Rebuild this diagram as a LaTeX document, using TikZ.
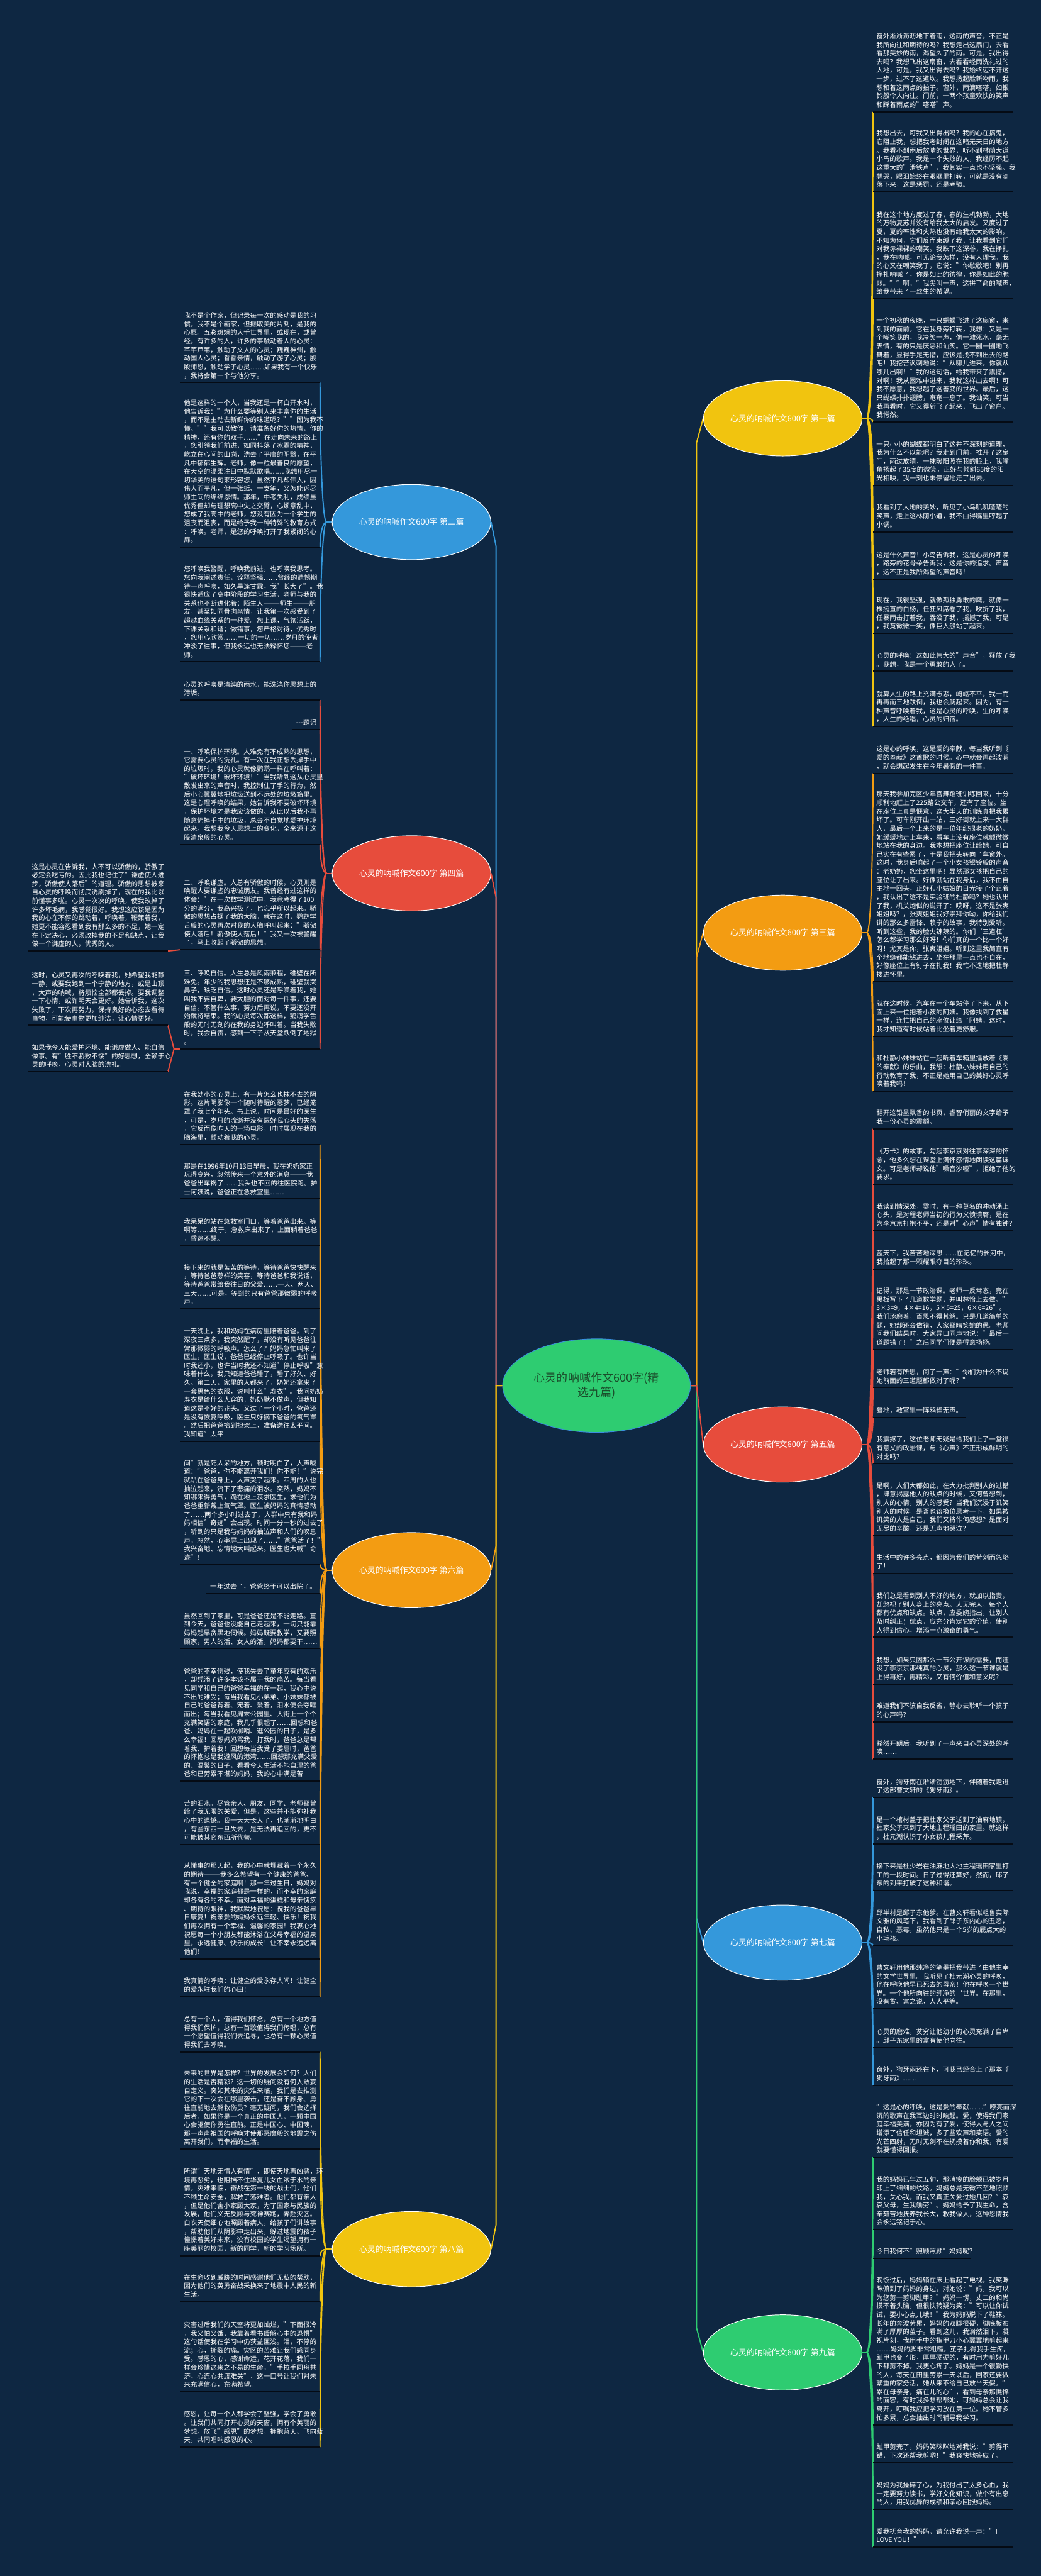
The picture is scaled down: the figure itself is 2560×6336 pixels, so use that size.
\documentclass[tikz,border=0pt]{standalone}
\usepackage{fontspec}
\setmainfont{Noto Sans CJK SC}
\usetikzlibrary{shapes.geometric,calc}
\definecolor{bgc}{HTML}{0E2742}
\definecolor{ulc}{HTML}{050B14}
\definecolor{yel}{HTML}{F1C40F}
\definecolor{org}{HTML}{F39C12}
\definecolor{red}{HTML}{E74C3C}
\definecolor{blu}{HTML}{3498DB}
\definecolor{grn}{HTML}{2ECC71}
\definecolor{cbord}{HTML}{3A8DDE}
\definecolor{ctext}{HTML}{1B4D2B}
\pgfdeclarelayer{background}
\pgfsetlayers{background,main}
\tikzset{
  txt/.style={anchor=north west,inner sep=0pt,align=left,text=white,font=\fontsize{16.3}{21.1}\selectfont},
  ul/.style={draw=ulc,line width=3pt},
  conn/.style={line width=3pt,line join=round},
  bnode/.style={ellipse,minimum width=390,minimum height=185,inner sep=0pt,draw=white,line width=1.5pt,text=white,font=\fontsize{20}{24}\selectfont}
}
\newcommand\rblk[4]{%
  \node[txt] (#1) at (2155,{#2-25.3-21.1*(#3-1)}) {#4};
  \draw[ul] (2147,#2) coordinate (u#1) -- (2490,#2);}
\newcommand\rblks[4]{%
  \node[txt] (#1) at (2155,{#2-25.3}) {#3};
  \draw[ul] (2147,#2) coordinate (u#1) -- (#4,#2);}
\newcommand\lblk[4]{%
  \node[txt] (#1) at (452,{#2-25.3-21.1*(#3-1)}) {#4};
  \draw[ul] (443,#2) coordinate (v#1) -- (787,#2) coordinate (u#1);}
\newcommand\lblkr[4]{%
  \node[txt,anchor=north east] (#1) at (778,{#2-25.3}) {#3};
  \draw[ul] (#4,#2) -- (787,#2) coordinate (u#1);}
\newcommand\fblk[4]{%
  \node[txt] (#1) at (78,{#2-25.3-21.1*(#3-1)}) {#4};
  \draw[ul] (70,#2) -- (413,#2) coordinate (u#1);}
\newcommand\cR[3]{\draw[conn,#1] (#2) .. controls +(10,0) and ($(#3)!0.5!(#3|-#2)$) .. (#3);}
\newcommand\cL[3]{\draw[conn,#1] (#2) .. controls +(-10,0) and ($(#3)!0.5!(#3|-#2)$) .. (#3);}
\begin{document}
\begin{tikzpicture}[x=1pt,y=-1pt]
\useasboundingbox (0,0) rectangle (2560,6336);
\begin{pgfonlayer}{background}
\fill[bgc] (0,0) rectangle (2560,6336);
\end{pgfonlayer}

% ---------------- right column ----------------
\rblk{r1a}{275}{9}{窗外淅淅沥沥地下着雨，这雨的声音，不正是\\我所向往和期待的吗？我想走出这扇门，去看\\看那美妙的雨，渴望久了的雨。可是，我出得\\去吗？我想飞出这扇窗，去看看经雨洗礼过的\\大地，可是，我又出得去吗？我始终迈不开这\\一步，过不了这道坎。我想扬起脸新吻雨，我\\想和着这雨点的拍子。窗外，雨滴嗒嗒，如银\\铃般令人向往。门前，一两个孩童欢快的笑声\\和踩着雨点的"嗒嗒"声。}
\rblk{r1b}{472}{7}{我想出去，可我又出得出吗？我的心在搞鬼，\\它阻止我，想把我老封闭在这暗无天日的地方\\。我看不到雨后放晴的世界，听不到林荫大道\\小鸟的歌声。我是一个失败的人，我经历不起\\这重大的"滑铁卢"，我其实一点也不坚强。我\\想哭，眼泪始终在眼眶里打转，可就是没有滴\\落下来，这是惩罚，还是考验。}
\rblk{r1c}{735}{10}{我在这个地方度过了春，春的生机勃勃，大地\\的万物复苏并没有给我太大的启发。又度过了\\夏，夏的率性和火热也没有给我太大的影响，\\不知为何，它们反而束缚了我，让我看到它们\\对我赤裸裸的嘲笑。我跌下这深谷，我在挣扎\\，我在呐喊，可无论我怎样，没有人理我。我\\的心又在嘲笑我了，它说："你歇歇吧！别再\\挣扎呐喊了，你是如此的彷徨，你是如此的脆\\弱。""啊。"我尖叫一声，这拼了命的喊声，\\给我带来了一丝生的希望。}
\rblk{r1d}{1038}{12}{一个初秋的夜晚，一只蝴蝶飞进了这扇窗，来\\到我的面前。它在我身旁打转，我想：又是一\\个嘲笑我的，我冷笑一声，像一滩死水，毫无\\表情，有的只是厌恶和讪笑。它一圈一圈地飞\\舞着，显得手足无措，应该是找不到出去的路\\吧！我挖苦讽刺地说："从哪儿进来，你就从\\哪儿出啊！"我的这句话，给我带来了震撼，\\对啊！我从困难中进来，我就这样出去啊！可\\我不愿意，我想起了这善变的世界。最后，这\\只蝴蝶扑扑翅膀，奄奄一息了。我讪笑，可当\\我再看时，它又得新飞了起来，飞出了窗户。\\我愕然。}
\rblk{r1e}{1194}{5}{一只小小的蝴蝶都明白了这并不深刻的道理，\\我为什么不以能呢？我走到门前，推开了这扇\\门，雨过放晴，一抹暖阳照在我的脸上，我嘴\\角扬起了35度的微笑，正好与倾斜65度的阳\\光相映，我一刻也未停留地走了出去。}
\rblk{r1f}{1308}{3}{我看到了大地的美妙，听见了小鸟叽叽喳喳的\\笑声，走上这林荫小道，我不由得嘴里哼起了\\小调。}
\rblk{r1g}{1424}{3}{这是什么声音！小鸟告诉我，这是心灵的呼唤\\，路旁的花骨朵告诉我，这是你的追求。声音\\，这不正是我所渴望的声音吗！}
\rblk{r1h}{1558}{4}{现在，我很坚强，就像孤独勇敢的鹰，就像一\\棵挺直的白杨，任狂风席卷了我，吹折了我，\\任暴雨击打着我，吞没了我，摇撼了我，可是\\，我竟微微一笑，像巨人般站了起来。}
\rblk{r1i}{1651}{2}{心灵的呼唤！这如此伟大的"声音"，释放了我\\。我想，我是一个勇敢的人了。}
\rblk{r1j}{1787}{4}{就算人生的路上充满忐忑，崎岖不平，我一而\\再再而三地跌倒，我也会爬起来。因为，有一\\种声音呼唤着我，这是心灵的呼唤，生的呼唤\\，人生的绝唱，心灵的归宿。}
\rblk{r3a}{1902}{3}{这是心的呼唤，这是爱的奉献，每当我听到《\\爱的奉献》这首歌的时候。心中就会再起波澜\\，就会想起发生在今年暑假的一件事。}
\rblk{r3b}{2414}{22}{那天我参加完区少年宫舞蹈班训练回来，十分\\顺利地赶上了225路公交车，还有了座位。坐\\在座位上真是惬意，这大半天的训练真把我累\\坏了。可车刚开出一站，三好街就上来一大群\\人，最后一个上来的是一位年纪很老的奶奶，\\她缓缓地走上车来，看车上没有座位就颤微微\\地站在我的身边。我本想把座位让给她，可自\\己实在有些累了，于是我把头转向了车窗外。\\这时，我身后响起了一个小女孩银铃般的声音\\：老奶奶，您坐这里吧！显然那女孩把自己的\\座位让了出来。好像就站在我身后，我不由自\\主地一回头，正好和小姑娘的目光接了个正着\\，我认出了这不是实验班的杜静吗？她也认出\\了我，机关炮似的说开了：哎呀，这不是张爽\\姐姐吗？，张爽姐姐我好崇拜你呦，你给我们\\讲的那么多雷锋、赖宁的故事，我特别爱听。\\听到这些，我的脸火辣辣的。你们‘三道杠’\\怎么都学习那么好呀！你们真的一个比一个好\\呀！尤其是你，张爽姐姐。听到这里我简直有\\个地缝都能钻进去，坐在那里一点也不自在，\\好像座位上有钉子在扎我！我忙不迭地把杜静\\搂进怀里。}
\rblk{r3c}{2549}{4}{就在这时候，汽车在一个车站停了下来，从下\\面上来一位抱着小孩的阿姨。我像找到了救星\\一样，连忙把自己的座位让给了阿姨。这时，\\我才知道有时候站着比坐着更舒服。}
\rblk{r3d}{2684}{4}{和杜静小妹妹站在一起听着车箱里播放着《爱\\的奉献》的乐曲，我想：杜静小妹妹用自己的\\行动教育了我，不正是她用自己的美好心灵呼\\唤着我吗！}
\rblk{r5a}{2776}{2}{翻开这铅墨飘香的书页，睿智俏丽的文字给予\\我一份心灵的震颤。}
\rblk{r5b}{2913}{4}{《万卡》的故事，勾起李京京对往事深深的怀\\念，他多么想在课堂上满怀感情地朗读这篇课\\文。可是老师却说他"嗓音沙哑"，拒绝了他的\\要求。}
\rblk{r5c}{3027}{3}{我读到情深处，霎时，有一种莫名的冲动涌上\\心头，是对程老师当初的行为义愤填膺，是在\\为李京京打抱不平，还是对"心声"情有独钟？}
\rblk{r5d}{3121}{2}{蓝天下，我苦苦地深思……在记忆的长河中，\\我拾起了那一颗耀眼夺目的珍珠。}
\rblk{r5e}{3319}{7}{记得，那是一节政治课。老师一反常态，竟在\\黑板写下了几道数学题，并叫林怡上去做。"\\3×3=9，4×4=16，5×5=25，6×6=26"。\\我们琢磨着，百思不得其解。只是几道简单的\\题，她却还会做错，大家都暗笑她的愚。老师\\问我们结果时，大家异口同声地说："最后一\\道题错了！"之后同学们便是得意扬扬。}
\rblk{r5f}{3413}{2}{老师若有所思，问了一声："你们为什么不说\\她前面的三道题都做对了呢？"}
\rblks{r5g}{3486}{蓦地，教室里一阵鸦雀无声。}{2375}
\rblk{r5h}{3600}{3}{我震撼了，这位老师无疑是给我们上了一堂很\\有意义的政治课，与《心声》不正形成鲜明的\\对比吗？}
\rblk{r5i}{3777}{6}{是啊，人们大都如此，在大力批判别人的过错\\，肆意揭露他人的缺点的时候，又何曾想到，\\别人的心情，别人的感受？当我们沉浸于讥笑\\别人的时候，是否也该换位思考一下，如果被\\讥笑的人是自己，我们又将作何感想？是面对\\无尽的辛酸，还是无声地哭泣？}
\rblk{r5j}{3870}{2}{生活中的许多亮点，都因为我们的苛刻而忽略\\了！}
\rblk{r5k}{4027}{5}{我们总是看到别人不好的地方，就加以指责，\\却忽视了别人身上的亮点。人无完人，每个人\\都有优点和缺点。缺点，应委婉指出，让别人\\及时纠正；优点，应充分肯定它的价值，使别\\人得到信心，增添一点激奋的勇气。}
\rblk{r5l}{4142}{3}{我想，如果只因那么一节公开课的需要，而湮\\没了李京京那纯真的心灵，那么这一节课就是\\上得再好，再精彩，又有何价值和意义呢？}
\rblk{r5m}{4235}{2}{难道我们不该自我反省，静心去聆听一个孩子\\的心声吗？}
\rblk{r5n}{4327}{2}{豁然开朗后，我听到了一声来自心灵深处的呼\\唤……}
\rblk{r7a}{4421}{2}{窗外，狗牙雨在淅淅沥沥地下，伴随着我走进\\了这部曹文轩的《狗牙雨》。}
\rblk{r7b}{4535}{3}{是一个棺材盖子把杜家父子送到了油麻地镇，\\杜家父子来到了大地主程瑶田的家里。就这样\\，杜元潮认识了小女孩儿程采芹。}
\rblk{r7c}{4650}{3}{接下来是杜少岩在油麻地大地主程瑶田家里打\\工的一段时间。日子过得还算好，然而，邱子\\东的到来打破了这种和谐。}
\rblk{r7d}{4785}{4}{邱半村是邱子东他爹。在曹文轩看似粗鲁实际\\文雅的风笔下，我看到了邱子东内心的丑恶，\\自私、恶毒，虽然他只是一个5岁的屁点大的\\小毛孩。}
\rblk{r7e}{4941}{5}{曹文轩用他那纯净的笔墨把我带进了由他主宰\\的文学世界里。我听见了杜元潮心灵的呼唤，\\他在呼唤他早已死去的母亲！他在呼唤一个世\\界。一个他所向往的纯净的`世界。在那里，\\没有贫、富之说，人人平等。}
\rblk{r7f}{5036}{2}{心灵的磨难，贫穷让他幼小的心灵充满了自卑\\。邱子东家里的富有使他向往。}
\rblk{r7g}{5129}{2}{窗外，狗牙雨还在下，可我已经合上了那本《\\狗牙雨》……}
\rblk{r9a}{5306}{6}{"这是心的呼唤，这是爱的奉献……"嘹亮而深\\沉的歌声在我耳边时时响起。爱，使得我们家\\庭幸福美满，亦因为有了爱，使得人与人之间\\增添了信任和坦诚，多了些欢声和笑语。爱的\\光芒四射，无时无刻不在抚摸着你和我，有爱\\就要懂得回报。}
\rblk{r9b}{5484}{6}{我的妈妈已年过五旬，那消瘦的脸颊已被岁月\\印上了细细的纹路。妈妈总是无微不至地照顾\\我，关心我，而我又真正关爱过她几回？"哀\\哀父母，生我劬劳"。妈妈给予了我生命，含\\辛茹苦地抚养我长大，教我做人，这种恩情我\\会永远铭记于心。}
\rblks{r9c}{5555}{今日我何不"照顾照顾"妈妈呢？}{2389}
\rblk{r9d}{5964}{17}{晚饭过后，妈妈躺在床上看起了电视，我笑眯\\眯俯到了妈妈的身边，对她说："妈，我可以\\为您剪一剪脚趾甲？"妈妈一愣，丈二的和尚\\摸不着头脑，但很快转疑为笑："可以让你试\\试，要小心点儿哦！"我为妈妈脱下了鞋袜。\\长年的奔波劳累，妈妈的双脚很硬，脚底板布\\满了厚厚的茧子。看到这儿，我潸然泪下，凝\\视片刻，我用手中的指甲刀小心翼翼地剪起来\\……妈妈的脚非常粗糙，茧子扎得我手生疼，\\趾甲也变了形，厚厚硬硬的，有时用力剪好几\\下都剪不掉，我更心疼了。妈妈是一个很勤快\\的人，每天在田里劳累一天以后，回家还要做\\繁重的家务活，她从来不给自己放半天假。"\\累在母亲身，痛在儿的心"，看到母亲那憔悴\\的面容，有时我多想帮帮她，可妈妈总会让我\\离开，叮嘱我应把学习放在第一位。她不管多\\忙多累，总会抽出时间辅导我学习。}
\rblk{r9e}{6057}{2}{趾甲剪完了，妈妈笑眯眯地对我说："剪得不\\错，下次还帮我剪哟！"我爽快地答应了。}
\rblk{r9f}{6172}{3}{妈妈为我操碎了心，为我付出了太多心血，我\\一定要努力读书，学好文化知识，做个有出息\\的人，用我优异的成绩和孝心回报妈妈。}
\rblk{r9g}{6265}{2}{爱我抚育我的妈妈，请允许我说一声："I\\LOVE YOU！"}

% ---------------- left column ----------------
\lblk{l2a}{941}{8}{我不是个作家，但记录每一次的感动是我的习\\惯，我不是个画家，但撷取美的片刻，是我的\\心愿。五彩斑斓的大千世界里，或现在，或曾\\经，有许多的人，许多的事触动着人的心灵：\\芊芊芦苇，触动了文人的心灵；巍巍神州，触\\动国人心灵；眷眷亲情，触动了游子心灵；殷\\殷师恩，触动学子心灵……如果我有一个快乐\\，我将会第一个与他分享。}
\lblk{l2b}{1346}{17}{他是这样的一个人，当我还是一杯白开水时，\\他告诉我："为什么要等别人来丰富你的生活\\，而不是主动去新鲜你的味道呢？""因为我不\\懂。""我可以教你，请准备好你的热情，你的\\精神，还有你的双手……"在走向未来的路上\\，您引领我们前进，如同抖落了冰霜的精神，\\屹立在心间的山岗，洗去了平庸的阴翳，在平\\凡中郁郁生辉。老师，像一粒最善良的愿望，\\在天空的温柔注目中默默歌唱……我想用尽一\\切华美的语句来形容您，虽然平凡却伟大，因\\伟大而平凡，但一张纸、一支笔，又怎能诉尽\\师生间的绵绵恩情。那年，中考失利，成绩虽\\优秀但却与理想高中失之交臂，心烦意乱中，\\您成了我高中的老师，您没有因为一个学生的\\沮丧而沮丧，而是给予我一种特殊的教育方式\\：呼唤。老师，是您的呼唤打开了我紧闭的心\\扉。}
\lblk{l2c}{1628}{11}{您呼唤我警醒，呼唤我前进，也呼唤我思考。\\您向我阐述责任，诠释坚强……曾经的遗憾期\\待一声呼唤，如久旱逢甘霖，我"长大了"。我\\很快适应了高中阶段的学习生活，老师与我的\\关系也不断进化着：陌生人———师生———朋\\友，甚至如同骨肉亲情，让我第一次感受到了\\超越血缘关系的一种爱。您上课，气氛活跃，\\下课关系和谐；做错事，您严格对待，优秀时\\，您用心欣赏……一切的一切……岁月的使者\\冲淡了往事，但我永远也无法释怀您———老\\师。}
\lblk{l4a}{1722}{2}{心灵的呼唤是清纯的雨水，能洗涤你思想上的\\污垢。}
\lblkr{l4b}{1795}{-{}-{}-题记}{717}
\lblk{l4c}{2077}{11}{一、呼唤保护环境。人难免有不成熟的思想，\\它需要心灵的洗礼。有一次在我正想丢掉手中\\的垃圾时，我的心灵就像鹦鹉一样在呼叫着：\\"破坏环境！破坏环境！"当我听到这从心灵里\\散发出来的声音时，我控制住了手的行为，然\\后小心翼翼地把垃圾送到不远处的垃圾箱里。\\这是心理呼唤的结果，她告诉我不要破坏环境\\，保护坏境才是我应该做的。从此以后我不再\\随意仍掉手中的垃圾，总会不自觉地爱护环境\\起来。我想我今天思想上的变化，全来源于这\\股清泉般的心灵。}
\lblk{l4d}{2336}{8}{二、呼唤谦虚。人总有骄傲的时候，心灵则是\\唤醒人要谦虚的忠诚朋友。我曾经有过这样的\\体会："在一次数学测试中，我竟考得了100\\分的满分，我高兴极了，也忘乎所以起来。骄\\傲的思想占据了我的大脑，就在这时，鹦鹉学\\舌般的心灵再次对我的大脑呼叫起来："骄傲\\使人落后！骄傲使人落后！"我又一次被警醒\\了，马上收起了骄傲的思想。}
\lblk{l4e}{2580}{9}{三、呼唤自信。人生总是风雨兼程，碰壁在所\\难免。年少的我思想还是不够成熟，碰壁就哭\\鼻子，缺乏自信。这时心灵还是呼唤着我，她\\叫我不要自卑，要大胆的面对每一件事，还要\\自信。不管什么事，努力后再说，不要还没开\\始就将结束。我的心灵每次都这样，鹦鹉学舌\\般的无时无刻的在我的身边呼叫着。当我失败\\时，我会自责，感到一下子从天堂跌倒了地狱\\。}
\fblk{f1}{2339}{10}{这是心灵在告诉我，人不可以骄傲的，骄傲了\\必定会吃亏的。因此我也记住了"谦虚使人进\\步，骄傲使人落后"的道理。骄傲的思想被来\\自心灵的呼唤而彻底洗刷掉了，现在的我比以\\前懂事多啦。心灵一次次的呼唤，使我改掉了\\许多坏毛病，我感觉很好。我想这应该是因为\\我的心在不停的跳动着，呼唤着，鞭策着我，\\她更不能容忍看到我有那么多的不足，她一定\\在下定决心，必须改掉我的不足和缺点，让我\\做一个谦虚的人，优秀的人。}
\fblk{f2}{2522}{6}{这时，心灵又再次的呼唤着我，她希望我能静\\一静，或要我跑到一个宁静的地方，或是山顶\\，大声的呐喊，将烦恼全部都丢掉。要我调整\\一下心情，或许明天会更好。她告诉我，这次\\失败了，下次再努力，保持良好的心态去看待\\事物，可能使事物更加纯洁，让心情更好。}
\fblk{f3}{2636}{3}{如果我今天能爱护环境、能谦虚做人、能自信\\做事。有"胜不骄败不馁"的好思想，全赖于心\\灵的呼唤，心灵对大脑的洗礼。}
\lblk{l6a}{2815}{6}{在我幼小的心灵上，有一片怎么也抹不去的阴\\影。这片阴影像一个随时待醒的恶梦，已经笼\\罩了我七个年头。书上说，时间是最好的医生\\，可是，岁月的流逝并没有医好我心头的失落\\，它反而像昨天的一场电影，时时展现在我的\\脑海里，颤动着我的心灵。}
\lblk{l6b}{2949}{4}{那是在1996年10月13日早晨，我在奶奶家正\\玩得高兴，忽然传来一个意外的消息———我\\爸爸出车祸了……我头也不回的往医院跑。护\\士阿姨说，爸爸正在急救室里……}
\lblk{l6c}{3064}{3}{我呆呆的站在急救室门口，等着爸爸出来。等\\啊等……终于，急救床出来了，上面躺着爸爸\\，昏迷不醒。}
\lblk{l6d}{3219}{5}{接下来的就是苦苦的等待，等待爸爸快快醒来\\，等待爸爸慈祥的笑容，等待爸爸和我说话，\\等待爸爸带给我往日的父爱……一天、两天、\\三天……可是，等到的只有爸爸那微弱的呼吸\\声。}
\lblk{l6e}{3545}{13}{一天晚上，我和妈妈在病房里陪着爸爸。到了\\深夜三点多，我突然醒了，却没有听见爸爸往\\常那微弱的呼吸声。怎么了？妈妈急忙叫来了\\医生，医生说，爸爸已经停止呼吸了。也许当\\时我还小，也许当时我还不知道"停止呼吸"意\\味着什么，我只知道爸爸睡了，睡了好久、好\\久。第二天，家里的人都来了，奶奶还拿来了\\一套黑色的衣服，说叫什么"寿衣"。我问奶奶\\寿衣是给什么人穿的，奶奶默不做声，但我知\\道这是不好的兆头。又过了一个小时，爸爸还\\是没有恢复呼吸，医生只好摘下爸爸的氧气罩\\。然后把爸爸抬到担架上，准备送往太平间。\\我知道"太平}
\lblk{l6f}{3848}{12}{间"就是死人呆的地方，顿时明白了，大声喊\\道："爸爸，你不能离开我们！你不能！"说完\\就趴在爸爸身上，大声哭了起来。四周的人也\\抽泣起来，流下了悲痛的泪水。突然，妈妈不\\知哪来得勇气，跪在地上哀求医生，求他们为\\爸爸重新戴上氧气罩。医生被妈妈的真情感动\\了……两个多小时过去了，人群中只有我和妈\\妈相信"奇迹"会出现。时间一分一秒的过去了\\，听到的只是我与妈妈的抽泣声和人们的叹息\\声。忽然，心率屏上出现了……"爸爸活了！"\\我兴奋地、忘情地大叫起来。医生也大喊"奇\\迹"！}
\lblkr{l6g}{3919}{一年过去了，爸爸终于可以出院了。}{508}
\lblk{l6h}{4055}{4}{虽然回到了家里，可是爸爸还是不能走路。直\\到今天，爸爸也没能自己走起来，一切只能靠\\妈妈起早贪黑地伺候。妈妈既要教学，又要照\\顾家，男人的活、女人的活，妈妈都要干……}
\lblk{l6i}{4381}{13}{爸爸的不幸伤残，使我失去了童年应有的欢乐\\，却凭添了许多本该不属于我的痛苦。每当看\\见同学和自己的爸爸幸福的在一起，我心中说\\不出的难受；每当我看见小弟弟、小妹妹都被\\自己的爸爸背着、宠着、爱着，泪水便会夺眶\\而出；每当我看见周末公园里、大街上一个个\\充满笑语的家庭，我几乎恨起了……回想和爸\\爸、妈妈在一起吹柳哨、逛公园的日子，是多\\么幸福！回想妈妈骂我、打我时，爸爸总是帮\\着我、护着我！回想每当我受了委屈时，爸爸\\的怀抱总是我避风的港湾……回想那充满父爱\\的、温馨的日子，看看今天生活不能自理的爸\\爸和已劳累不堪的妈妈，我的心中满是苦}
\lblk{l6j}{4537}{5}{苦的泪水。尽管亲人、朋友、同学、老师都曾\\给了我无限的关爱，但是，这些并不能弥补我\\心中的遗憾。我一天天长大了，也渐渐地明白\\，有些东西一旦失去，是无法再追回的，更不\\可能被其它东西所代替。}
\lblk{l6k}{4818}{11}{从懂事的那天起，我的心中就埋藏着一个永久\\的期待———我多么希望有一个健康的爸爸、\\有一个健全的家庭啊！那一年过生日，妈妈对\\我说，幸福的家庭都是一样的，而不幸的家庭\\却各有各的不幸。面对幸福的蛋糕和母亲愧疚\\、期待的眼神，我默默地祝愿：祝我的爸爸早\\日康复！祝亲爱的妈妈永远年轻、快乐！祝我\\们再次拥有一个幸福、温馨的家园！我衷心地\\祝愿每一个小朋友都能沐浴在父母幸福的温泉\\里，永远健康、快乐的成长！让不幸永远远离\\他们！}
\lblk{l6l}{4911}{2}{我真情的呼唤：让健全的爱永存人间！让健全\\的爱永驻我们的心田！}
\lblk{l8a}{5047}{4}{总有一个人，值得我们怀念，总有一个地方值\\得我们保护，总有一首歌值得我们传唱，总有\\一个愿望值得我们去追寻，也总有一颗心灵值\\得我们去呼唤。}
\lblk{l8b}{5286}{9}{未来的世界是怎样？世界的发展会如何？人们\\的生活是否精彩？这一切的疑问没有何人敢妄\\自定义。突如其来的灾难来临，我们是去推测\\它的下一次会在哪里袭击，还是奋不顾身、勇\\往直前地去解救伤员？毫无疑问，我们会选择\\后者，如果你是一个真正的中国人，一颗中国\\心会驱使你勇往直前。正是中国心、中国魂，\\那一声声祖国的呼唤才使那恶魔般的地震之伤\\离开我们，而幸福的生活。}
\lblk{l8c}{5548}{10}{所谓"天地无情人有情"，即使天地再凶恶，环\\境再恶劣，也阻挡不住华夏儿女血浓于水的亲\\情。灾难来临，奋战在第一线的战士们，他们\\不顾生命安全，解救了落难者。他们都有亲人\\，但是他们舍小家顾大家，为了国家与民族的\\发展，他们义无反顾与死神赛跑，奔赴灾区。\\白衣天使细心地照顾着病人，给孩子们讲故事\\，帮助他们从阴影中走出来，躲过地震的孩子\\憧憬着美好未来，没有校园的学生渴望拥有一\\座美丽的校园，新的同学，新的学习场所。}
\lblk{l8d}{5661}{3}{在生命收到威胁的时间感谢他们无私的帮助，\\因为他们的英勇奋战采换来了地震中人民的新\\生活。}
\lblk{l8e}{5883}{8}{灾害过后我们的天空将更加灿烂，"下面很冷\\，我又怕又饿，我靠着看书缓解心中的恐惧"\\这句话使我在学习中仍获益匪浅。泪，不停的\\流；心，撕裂的痛。灾区的苦难让我们感同身\\受。感恩的心，感谢命运，花开花落，我们一\\样会珍惜这来之不易的生命。"手拉手同舟共\\济，心连心共渡难关"，这一口号让我们对未\\来充满信心，充满希望。}
\lblk{l8f}{6019}{4}{感恩，让每一个人都学会了坚强，学会了勇敢\\。让我们共同打开心灵的天窗，拥有个美丽的\\梦想。放飞"感恩"的梦想，拥抱蓝天、飞向蓝\\天，共同唱响感恩的心。}

% ---------------- main nodes ----------------
\node[ellipse,minimum width=462,minimum height=230,inner sep=0pt,fill=grn,draw=cbord,line width=1.5pt] (C) at (1467,3408) {};
\node[font=\fontsize{28}{35}\selectfont,text=ctext,align=center] (Ct) at (C) {心灵的呐喊作文600字(精\\选九篇)};
\node[bnode,fill=yel] (B1) at (1925,1029) {心灵的呐喊作文600字 第一篇};
\node[bnode,fill=org] (B3) at (1925,2294) {心灵的呐喊作文600字 第三篇};
\node[bnode,fill=red] (B5) at (1925,3553) {心灵的呐喊作文600字 第五篇};
\node[bnode,fill=blu] (B7) at (1925,4778) {心灵的呐喊作文600字 第七篇};
\node[bnode,fill=grn] (B9) at (1925,5786) {心灵的呐喊作文600字 第九篇};
\node[bnode,fill=blu] (B2) at (1012,1284) {心灵的呐喊作文600字 第二篇};
\node[bnode,fill=red] (B4) at (1012,2148) {心灵的呐喊作文600字 第四篇};
\node[bnode,fill=org] (B6) at (1012,3862) {心灵的呐喊作文600字 第六篇};
\node[bnode,fill=yel] (B8) at (1012,5532) {心灵的呐喊作文600字 第八篇};

\coordinate (F1) at (2132,1029);
\coordinate (F3) at (2132,2294);
\coordinate (F5) at (2132,3553);
\coordinate (F7) at (2132,4778);
\coordinate (F9) at (2132,5786);
\coordinate (F2) at (803,1284);
\coordinate (F4) at (803,2148);
\coordinate (F6) at (803,3862);
\coordinate (F8) at (803,5532);
\coordinate (G4) at (428,2580);

% ---------------- connectors ----------------
\begin{pgfonlayer}{background}
\draw[conn,blu] (C.west) -- (1220,3408) -- (1220,1344) -- (B2.east);
\draw[conn,red] (C.west) -- (1220,3408) -- (1220,2208) -- (B4.east);
\draw[conn,org] (C.west) -- (1220,3408) -- (1220,3802) -- (B6.east);
\draw[conn,yel] (C.west) -- (1220,3408) -- (1220,5472) -- (B8.east);
\draw[conn,yel] (C.east) -- (1713,3408) -- (1713,1089) -- (B1.west);
\draw[conn,org] (C.east) -- (1713,3408) -- (1713,2354) -- (B3.west);
\draw[conn,blu] (C.east) -- (1713,3408) -- (1713,4718) -- (B7.west);
\draw[conn,grn] (C.east) -- (1713,3408) -- (1713,5726) -- (B9.west);
\draw[conn,red] (C.east) -- (1713,3408) -- (B5.west);

\draw[conn,yel] (B1.east) -- (F1);
\draw[conn,org] (B3.east) -- (F3);
\draw[conn,red] (B5.east) -- (F5);
\draw[conn,blu] (B7.east) -- (F7);
\draw[conn,grn] (B9.east) -- (F9);
\draw[conn,blu] (B2.west) -- (F2);
\draw[conn,red] (B4.west) -- (F4);
\draw[conn,org] (B6.west) -- (F6);
\draw[conn,yel] (B8.west) -- (F8);

\foreach \t in {r1a,r1b,r1c,r1d,r1e,r1f,r1g,r1h,r1i,r1j} {\cR{yel}{F1}{u\t}}
\foreach \t in {r3a,r3b,r3c,r3d} {\cR{org}{F3}{u\t}}
\foreach \t in {r5a,r5b,r5c,r5d,r5e,r5f,r5g,r5h,r5i,r5j,r5k,r5l,r5m,r5n} {\cR{red}{F5}{u\t}}
\foreach \t in {r7a,r7b,r7c,r7d,r7e,r7f,r7g} {\cR{blu}{F7}{u\t}}
\foreach \t in {r9a,r9b,r9c,r9d,r9e,r9f,r9g} {\cR{grn}{F9}{u\t}}
\foreach \t in {l2a,l2b,l2c} {\cL{blu}{F2}{u\t}}
\foreach \t in {l4a,l4b,l4c,l4d,l4e} {\cL{red}{F4}{u\t}}
\foreach \t in {l6a,l6b,l6c,l6d,l6e,l6f,l6g,l6h,l6i,l6j,l6k,l6l} {\cL{org}{F6}{u\t}}
\foreach \t in {l8a,l8b,l8c,l8d,l8e,l8f} {\cL{yel}{F8}{u\t}}

\draw[conn,red] (vl4d) -- (uf1);
\draw[conn,red] (vl4e) -- (G4) -- (uf2);
\draw[conn,red] (G4) -- (uf3);
\end{pgfonlayer}
\end{tikzpicture}
\end{document}
